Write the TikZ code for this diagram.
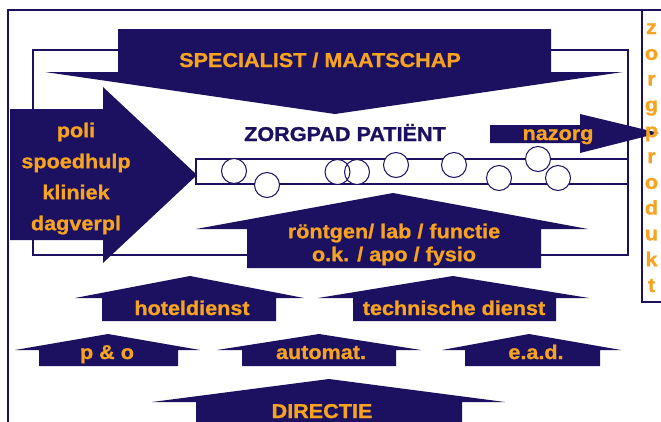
\documentclass[tikz,border=0pt]{standalone}
\usepackage{fontspec}
\setmainfont{Liberation Sans}
\newfontfamily\wide[FakeStretch=1.08,FakeBold=1]{Liberation Sans}
\definecolor{navy}{RGB}{28,16,96}
\definecolor{orng}{RGB}{246,163,33}
\tikzset{
  shp/.style={fill=navy, draw=none},
  frame/.style={draw=navy, line width=1.3pt},
  lbl/.style={text=orng, inner sep=0pt, font=\wide\bfseries\fontsize{20}{24}\selectfont},
  dlbl/.style={text=navy, inner sep=0pt, font=\wide\bfseries\fontsize{20}{24}\selectfont},
  ball/.style={circle, fill=white, minimum size=25pt, inner sep=0pt}
}
\begin{document}
\begin{tikzpicture}[x=1pt,y=-1pt]
\useasboundingbox (0,0) rectangle (661,421);
\fill[white] (0,0) rectangle (661,421);
% outer frame
\draw[frame] (8,425) -- (8,10) -- (642,10);
% zorgprodukt box
\draw[frame] (664,10) -- (642,10) -- (642,302) -- (664,302);
% inner rectangle
\draw[frame] (33,50) rectangle (628,255);
% band
\draw[frame] (628,159) -- (196,159) -- (196,184) -- (628,184);
% circles
\node[ball] (c1) at (234,171) {};
\node[ball] (c2) at (267,185) {};
\node[ball] (c3) at (337.5,172) {};
\node[ball] (c4) at (357,172) {};
\node[ball] (c5) at (396,165) {};
\node[ball] (c6) at (454,165) {};
\node[ball] (c7) at (499,178) {};
\node[ball] (c8) at (538,159) {};
\node[ball] (c9) at (558,178) {};
\foreach \n in {c1,c2,c3,c4,c5,c6,c7,c8,c9}
  \draw[navy, line width=1pt] (\n.center) circle (12.5);
% arrows
\fill[shp] (118,29) -- (551,29) -- (551,72) -- (623,72) -- (335,114) -- (45,72) -- (118,72) -- cycle;
\fill[shp] (10,109) -- (103,109) -- (103,87) -- (197,175) -- (103,263) -- (103,240) -- (10,240) -- cycle;
\fill[shp] (490,125) -- (580,125) -- (580,114) -- (659,133) -- (580,153) -- (580,143) -- (490,143) -- cycle;
\fill[shp] (196,229) -- (393,193) -- (588,229) -- (541,229) -- (541,268) -- (247,268) -- (247,229) -- cycle;
\fill[shp] (75,298) -- (190,276) -- (304,298) -- (276,298) -- (276,321) -- (102,321) -- (102,298) -- cycle;
\fill[shp] (318,298) -- (453,276) -- (589,298) -- (556,298) -- (556,321) -- (353,321) -- (353,298) -- cycle;
\fill[shp] (15,350) -- (108,334) -- (200,350) -- (178,350) -- (178,366) -- (39,366) -- (39,350) -- cycle;
\fill[shp] (217,350) -- (319,334) -- (421,350) -- (396,350) -- (396,366) -- (242,366) -- (242,350) -- cycle;
\fill[shp] (442,350) -- (529,334) -- (621,350) -- (600,350) -- (600,366) -- (465,366) -- (465,350) -- cycle;
\fill[shp] (152,402) -- (329,379) -- (505,402) -- (462,402) -- (462,425) -- (196,425) -- (196,402) -- cycle;
% labels
\node[lbl, anchor=base] (spec) at (320,67) {SPECIALIST / MAATSCHAP};
\node[lbl, anchor=north, align=center, font=\wide\bfseries\fontsize{20}{31}\selectfont] (poli) at (76,122.5) {poli\\spoedhulp\\kliniek\\dagverpl};
\node[dlbl, anchor=base] (zp) at (345,141) {ZORGPAD PATIËNT};
\node[lbl, anchor=base] (naz) at (558,140) {nazorg};
\node[lbl, anchor=north, align=center, font=\wide\bfseries\fontsize{20}{23}\selectfont] (ront) at (394,223.5) {röntgen/ lab / functie\\o.k. / apo / fysio};
\node[lbl, anchor=base] (hotel) at (192,315) {hoteldienst};
\node[lbl, anchor=base] (tech) at (454,315) {technische dienst};
\node[lbl, anchor=base] (po) at (107,359) {p \& o};
\node[lbl, anchor=base] (auto) at (321,359) {automat.};
\node[lbl, anchor=base] (ead) at (536,359) {e.a.d.};
\node[lbl, anchor=base] (dir) at (322,418) {DIRECTIE};
\foreach \c [count=\i from 0] in {z,o,r,g,p,r,o,d,u,k,t}
  \node[lbl, anchor=base] (zpr\i) at (651.5,34+\i*25.8) {\c};
\end{tikzpicture}
\end{document}
